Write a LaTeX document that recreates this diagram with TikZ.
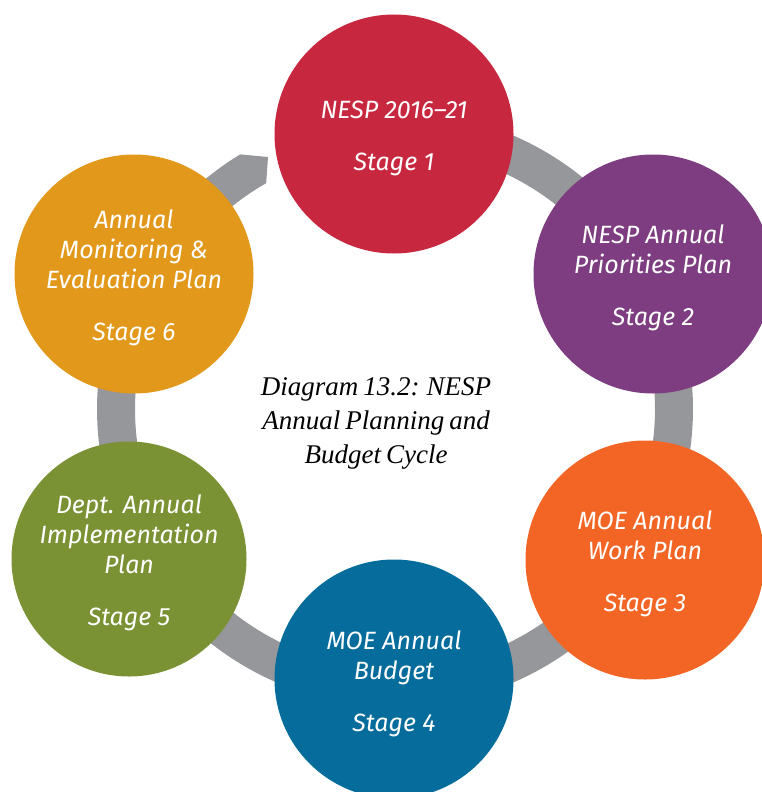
\documentclass[tikz,border=0pt]{standalone}
\usepackage{fontspec}
\setsansfont{Fira Sans}
\setmainfont{Liberation Serif}
\usetikzlibrary{shapes.geometric}
\definecolor{cred}{HTML}{C8283F}
\definecolor{cpurple}{HTML}{7D3D80}
\definecolor{corange}{HTML}{F26524}
\definecolor{cblue}{HTML}{066C9C}
\definecolor{cgreen}{HTML}{7A9233}
\definecolor{cgold}{HTML}{E2981B}
\definecolor{ringgray}{HTML}{96979B}
\newcommand{\tightspace}{\spaceskip=5pt\relax}
\begin{document}
\begin{tikzpicture}[x=1pt,y=-1pt,
  stage/.style={circle, minimum size=239pt, inner sep=0pt, draw=none},
  stagetext/.style={text=white, align=center, inner sep=0pt, font=\sffamily\itshape\fontsize{25}{30}\selectfont},
  captext/.style={align=center, inner sep=0pt, font=\itshape\fontsize{27}{34}\selectfont\tightspace}]
\useasboundingbox (0,0) rectangle (762,792);
\clip (0,0) rectangle (762,792);
% ring with arrow end
\fill[ringgray] plot[domain=121.3:470, samples=240] ({395+298*cos(\x)},{409-298*sin(\x)})
  -- plot[domain=470:119.7, samples=240] ({395+260*cos(\x)},{409-260*sin(\x)})
  -- (268,157) -- cycle;
% stages
\node[stage, fill=cred]    (s1) at (394,134) {};
\node[stage, fill=cpurple] (s2) at (653,274) {};
\node[stage, fill=corange] (s3) at (645,560) {};
\node[stage, fill=cblue]   (s4) at (394,679) {};
\node[stage, fill=cgreen, minimum size=235pt]  (s5) at (129,559) {};
\node[stage, fill=cgold]   (s6) at (134,274) {};
\node[stagetext] (t1) at ([yshift=-4pt]s1.center) {NESP 2016–21\\[22pt]Stage 1};
\node[stagetext] (t2) at ([yshift=-4pt]s2.center) {NESP Annual\\Priorities Plan\\[22pt]Stage 2};
\node[stagetext] (t3) at ([yshift=-4pt]s3.center) {MOE Annual\\Work Plan\\[22pt]Stage 3};
\node[stagetext] (t4) at ([yshift=-5pt]s4.center) {MOE Annual\\Budget\\[22pt]Stage 4};
\node[stagetext] (t5) at ([yshift=-4pt]s5.center) {Dept. Annual\\Implementation\\Plan\\[22pt]Stage 5};
\node[stagetext] (t6) at ([yshift=-4pt]s6.center) {Annual\\Monitoring \&\\Evaluation Plan\\[22pt]Stage 6};
\node[captext] (cap) at (376,423) {Diagram 13.2: NESP\\Annual Planning and\\Budget Cycle};
\end{tikzpicture}
\end{document}
